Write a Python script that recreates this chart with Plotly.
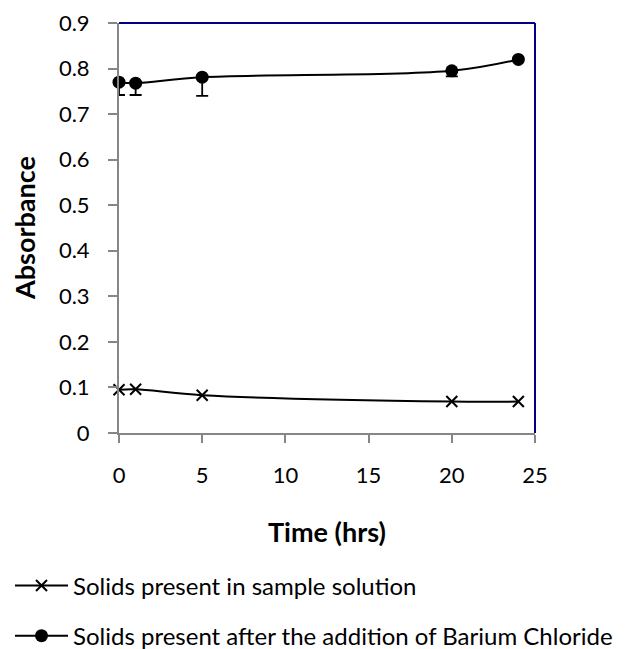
import plotly.graph_objects as go

time_hrs = [0, 1, 5, 20, 24]
solids_sample = [0.095, 0.096, 0.083, 0.069, 0.069]
solids_bacl2 = [0.770, 0.768, 0.781, 0.795, 0.820]
bacl2_err_minus = [0.028, 0.026, 0.041, 0.012, 0.0]
y_ticks = [0, 0.1, 0.2, 0.3, 0.4, 0.5, 0.6, 0.7, 0.8, 0.9]
y_ticklabels = ["0", "0.1", "0.2", "0.3", "0.4", "0.5", "0.6", "0.7", "0.8", "0.9"]
x_ticks = [0, 5, 10, 15, 20, 25]

FONT = "Lato"

fig = go.Figure()
fig.add_trace(go.Scatter(
    x=time_hrs, y=solids_sample, mode="lines+markers",
    name="Solids present in sample solution", legendgroup="a",
    line=dict(color="black", width=2, shape="spline"),
    marker=dict(symbol="x-thin", size=11, color="black", line=dict(color="black", width=2)),
    cliponaxis=False,
))
fig.add_trace(go.Scatter(
    x=time_hrs, y=solids_bacl2, mode="lines+markers",
    name="Solids present after the addition of Barium Chloride", legendgroup="b",
    line=dict(color="black", width=2, shape="spline"),
    marker=dict(symbol="circle", size=13, color="black"),
    error_y=dict(type="data", symmetric=False, array=[0] * len(time_hrs),
                 arrayminus=bacl2_err_minus, color="black", thickness=1.8, width=6),
    cliponaxis=False,
))

fig.update_layout(
    width=634, height=649,
    margin=dict(l=119, r=99, t=23, b=216, autoexpand=False),
    paper_bgcolor="white", plot_bgcolor="white",
    font=dict(family=FONT, size=22, color="black"),
    legend=dict(x=-0.262, y=-0.318, xanchor="left", yanchor="top",
                font=dict(family=FONT, size=24), tracegroupgap=16,
                traceorder="grouped", itemwidth=53, bgcolor="rgba(0,0,0,0)"),
    showlegend=True,
    shapes=[
        dict(type="line", xref="paper", yref="paper", x0=0, x1=1, y0=1, y1=1,
             line=dict(color="#000080", width=2)),
        dict(type="line", xref="paper", yref="paper", x0=1, x1=1, y0=0, y1=1,
             line=dict(color="#000080", width=2)),
    ],
    annotations=[
        dict(text="<b>Time (hrs)</b>", xref="paper", yref="paper", x=0.5, y=0,
             yshift=-98, xanchor="center", yanchor="middle", showarrow=False,
             font=dict(family=FONT, size=27)),
        dict(text="<b>Absorbance</b>", xref="paper", yref="paper", x=0, y=0.5,
             xshift=-95, xanchor="center", yanchor="middle", showarrow=False,
             textangle=-90, font=dict(family=FONT, size=27)),
    ],
)
fig.update_xaxes(
    range=[0, 25], tickvals=x_ticks, ticks="outside", ticklen=8, tickwidth=2,
    tickcolor="#868686", showline=True, linecolor="#868686", linewidth=2,
    showgrid=False, zeroline=False, tickfont=dict(family=FONT, size=22),
    ticklabelstandoff=14, automargin=False,
)
fig.update_yaxes(
    range=[0, 0.9], tickvals=y_ticks, ticktext=y_ticklabels, ticks="outside",
    ticklen=9, tickwidth=2, tickcolor="#868686", showline=True, linecolor="#868686",
    linewidth=2, showgrid=False, zeroline=False, tickfont=dict(family=FONT, size=22),
    ticklabelstandoff=14, automargin=False,
)

fig.write_html("out.html")
